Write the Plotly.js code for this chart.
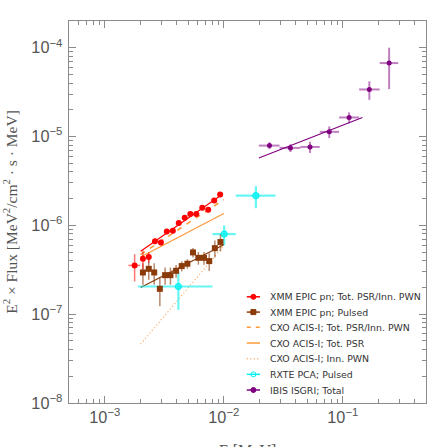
<!DOCTYPE html>
<html>
<head>
<meta charset="utf-8">
<script src="https://cdn.plot.ly/plotly-3.0.1.min.js"></script>
<style>html,body{margin:0;padding:0;background:#fff;}#chart{width:447px;height:447px;}</style>
</head>
<body>
<div id="chart"></div>
<script>
// ---- XMM EPIC pn; Tot. PSR/Inn. PWN ----
const xmmTotE = [1.78e-3, 2.09e-3, 2.34e-3, 2.64e-3, 2.96e-3, 3.32e-3, 3.73e-3, 4.18e-3, 4.69e-3, 5.23e-3, 5.87e-3, 6.59e-3, 7.39e-3, 8.30e-3, 9.31e-3];
const xmmTotF = [3.54e-7, 4.21e-7, 4.40e-7, 6.61e-7, 6.43e-7, 8.55e-7, 8.71e-7, 1.06e-6, 1.22e-6, 1.34e-6, 1.34e-6, 1.58e-6, 1.50e-6, 1.91e-6, 2.22e-6];
const xmmTotFErr = [1.2e-7, 1.0e-7, 0.6e-7, 0.5e-7, 0.5e-7, 0.6e-7, 0.6e-7, 0.7e-7, 0.8e-7, 0.9e-7, 0.9e-7, 1.0e-7, 1.0e-7, 1.2e-7, 1.3e-7];
const xmmTotEErr = [0.2e-3, 0, 0, 0, 0, 0, 0, 0, 0, 0, 0, 0, 0, 0, 0];
const xmmTotFitE = [2.0e-3, 9.8e-3];
const xmmTotFitF = [5.1e-7, 2.25e-6];

// ---- XMM EPIC pn; Pulsed ----
const xmmPulE = [2.09e-3, 2.34e-3, 2.60e-3, 2.90e-3, 3.21e-3, 3.56e-3, 3.97e-3, 4.43e-3, 4.94e-3, 5.51e-3, 6.11e-3, 6.81e-3, 7.54e-3, 8.41e-3, 9.37e-3];
const xmmPulF = [2.95e-7, 3.24e-7, 2.95e-7, 1.93e-7, 2.75e-7, 2.75e-7, 3.08e-7, 3.48e-7, 3.70e-7, 4.96e-7, 4.31e-7, 4.31e-7, 3.96e-7, 5.54e-7, 6.49e-7];
const xmmPulFErr = [0.8e-7, 0.8e-7, 0.8e-7, 0.7e-7, 0.6e-7, 0.6e-7, 0.5e-7, 0.45e-7, 0.45e-7, 0.6e-7, 0.7e-7, 0.7e-7, 0.9e-7, 1.2e-7, 1.4e-7];
const xmmPulFitE = [2.0e-3, 1.0e-2];
const xmmPulFitF = [2.0e-7, 6.05e-7];

// ---- CXO ACIS-I power laws ----
const cxoE = [2.0e-3, 1.0e-2];
const cxoTotInnF = [4.7e-7, 1.95e-6];
const cxoTotPsrF = [4.4e-7, 1.36e-6];
const cxoInnPwnF = [4.6e-8, 5.9e-7];

// ---- RXTE PCA; Pulsed ----
const rxteE = [4.15e-3, 1.007e-2, 1.86e-2];
const rxteF = [2.05e-7, 7.98e-7, 2.16e-6];
const rxteEErrMinus = [2.25e-3, 2.04e-3, 0.60e-2];
const rxteEErrPlus = [3.88e-3, 2.53e-3, 0.86e-2];
const rxteFErr = [0.93e-7, 2.0e-7, 0.6e-6];

// ---- IBIS ISGRI; Total ----
const ibisE = [2.42e-2, 3.63e-2, 5.30e-2, 7.69e-2, 0.113, 0.167, 0.245];
const ibisF = [7.91e-6, 7.45e-6, 7.64e-6, 1.13e-5, 1.64e-5, 3.39e-5, 6.72e-5];
const ibisEErrMinus = [0.45e-2, 0.69e-2, 0.90e-2, 1.29e-2, 0.020, 0.030, 0.041];
const ibisEErrPlus = [0.52e-2, 0.77e-2, 1.10e-2, 1.61e-2, 0.024, 0.037, 0.047];
const ibisFErr = [0.7e-6, 0.75e-6, 1.1e-6, 1.7e-6, 2.3e-6, 0.8e-5, 3.3e-5];
const ibisFitE = [1.97e-2, 0.146];
const ibisFitF = [5.74e-6, 1.64e-5];

const legendLabels = [
  'XMM EPIC pn; Tot. PSR/Inn. PWN',
  'XMM EPIC pn; Pulsed',
  'CXO ACIS-I; Tot. PSR/Inn. PWN',
  'CXO ACIS-I; Tot. PSR',
  'CXO ACIS-I; Inn. PWN',
  'RXTE PCA; Pulsed',
  'IBIS ISGRI; Total'
];
const xTitle = 'E [MeV]';
const yTitle = 'E<sup>2</sup> × Flux [MeV<sup>2</sup>/cm<sup>2</sup> · s · MeV]';

const RED = '#ff0000', RED_L = 'rgba(255,0,0,0.55)';
const BROWN = '#8b3a0a', BROWN_L = 'rgba(139,58,10,0.6)';
const ORANGE = '#ff9a3c', ORANGE_L = '#ffa860';
const CYAN = '#00f0f0', CYAN_L = 'rgba(0,240,240,0.6)';
const PURPLE = '#800080', PURPLE_L = 'rgba(128,0,128,0.5)';

const traces = [
  {x: cxoE, y: cxoInnPwnF, mode: 'lines', line: {color: ORANGE_L, width: 1.3, dash: '1px,2.5px'}},
  {x: cxoE, y: cxoTotPsrF, mode: 'lines', line: {color: ORANGE, width: 1.3}},
  {x: cxoE, y: cxoTotInnF, mode: 'lines', line: {color: ORANGE, width: 1.6, dash: '5px,6px'}},
  {x: xmmTotFitE, y: xmmTotFitF, mode: 'lines', line: {color: RED, width: 1.2}},
  {x: xmmPulFitE, y: xmmPulFitF, mode: 'lines', line: {color: BROWN, width: 1.2}},
  {x: ibisFitE, y: ibisFitF, mode: 'lines', line: {color: PURPLE, width: 1.2}},
  {x: rxteE, y: rxteF, mode: 'markers',
   marker: {symbol: 'circle', size: 6, color: 'rgba(0,240,240,0.6)', line: {color: CYAN, width: 1.2}},
   error_x: {type: 'data', symmetric: false, array: rxteEErrPlus, arrayminus: rxteEErrMinus, color: CYAN_L, thickness: 2.2, width: 0},
   error_y: {type: 'data', array: rxteFErr, color: CYAN_L, thickness: 2.2, width: 0}},
  {x: xmmPulE, y: xmmPulF, mode: 'markers',
   marker: {symbol: 'square', size: 6, color: BROWN},
   error_y: {type: 'data', array: xmmPulFErr, color: BROWN_L, thickness: 1.5, width: 0}},
  {x: xmmTotE, y: xmmTotF, mode: 'markers',
   marker: {symbol: 'circle', size: 6, color: RED},
   error_x: {type: 'data', array: xmmTotEErr, color: RED_L, thickness: 1.5, width: 0},
   error_y: {type: 'data', array: xmmTotFErr, color: RED_L, thickness: 1.5, width: 0}},
  {x: ibisE, y: ibisF, mode: 'markers',
   marker: {symbol: 'circle', size: 5, color: PURPLE},
   error_x: {type: 'data', symmetric: false, array: ibisEErrPlus, arrayminus: ibisEErrMinus, color: PURPLE_L, thickness: 2, width: 0},
   error_y: {type: 'data', array: ibisFErr, color: PURPLE_L, thickness: 2, width: 0}}
];

// custom legend (positions in paper units)
const legRows = [0.278, 0.238, 0.198, 0.157, 0.116, 0.075, 0.034];
const legStyles = [
  {color: RED, dash: 'solid', marker: 'circle'},
  {color: BROWN, dash: 'solid', marker: 'square'},
  {color: ORANGE, dash: '4px,5px', marker: null},
  {color: ORANGE, dash: 'solid', marker: null},
  {color: ORANGE_L, dash: '1px,2.5px', marker: null},
  {color: CYAN, dash: 'solid', marker: 'open'},
  {color: PURPLE, dash: 'solid', marker: 'circle'}
];
const shapes = [];
const annotations = [];
const lx0 = 0.498, lx1 = 0.535, lxm = (lx0 + lx1) / 2, ltx = 0.557;
legRows.forEach((yy, i) => {
  const s = legStyles[i];
  shapes.push({type: 'line', xref: 'paper', yref: 'paper', x0: lx0, x1: lx1, y0: yy, y1: yy,
    line: {color: s.color, width: 1.5, dash: s.dash}});
  if (s.marker) {
    const r = 2.5;
    shapes.push({type: s.marker === 'square' ? 'rect' : 'circle', xref: 'paper', yref: 'paper',
      xsizemode: 'pixel', ysizemode: 'pixel', xanchor: lxm, yanchor: yy,
      x0: -r, x1: r, y0: -r, y1: r,
      fillcolor: s.marker === 'open' ? 'rgba(0,0,0,0)' : s.color,
      line: {color: s.color, width: 1}});
  }
  annotations.push({xref: 'paper', yref: 'paper', x: ltx, y: yy, xanchor: 'left', yanchor: 'middle',
    showarrow: false, text: legendLabels[i], font: {family: 'DejaVu Sans', size: 9.4, color: '#333'}});
});
// x-axis title, placed low as in the reference (partly below the page edge)
annotations.push({xref: 'paper', yref: 'paper', x: 0.5, y: -0.125, xanchor: 'center', yanchor: 'middle',
  showarrow: false, text: xTitle, font: {family: 'Liberation Serif', size: 16, color: '#555'}});

const axisCommon = {
  type: 'log', showgrid: false, zeroline: false, showline: true, linecolor: '#8a8a8a', linewidth: 1,
  mirror: 'allticks', ticks: 'inside', ticklen: 7, tickcolor: '#8a8a8a', tickwidth: 1,
  dtick: 1, exponentformat: 'power',
  tickfont: {family: 'Liberation Sans', size: 13, color: '#555'},
  minor: {ticks: 'inside', ticklen: 4, tickcolor: '#8a8a8a', dtick: 'D1', showgrid: false}
};

const layout = {
  width: 447, height: 447, autosize: false,
  paper_bgcolor: '#fff', plot_bgcolor: '#fff',
  showlegend: false,
  margin: {l: 69, r: 21, t: 21, b: 44},
  xaxis: Object.assign({}, axisCommon, {
    range: [Math.log10(5e-4), Math.log10(0.5)]
  }),
  yaxis: Object.assign({}, axisCommon, {
    range: [-8, Math.log10(2e-4)],
    ticklabelstandoff: 3,
    title: {text: yTitle, font: {family: 'Liberation Serif', size: 15.5, color: '#555'}, standoff: 11}
  }),
  shapes: shapes,
  annotations: annotations
};

Plotly.newPlot('chart', traces, layout, {displayModeBar: false, staticPlot: true});
</script>
</body>
</html>
